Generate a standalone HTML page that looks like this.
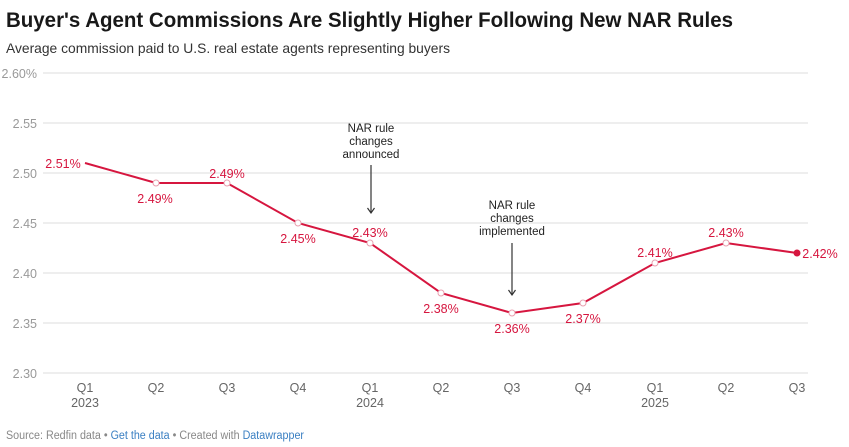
<!DOCTYPE html><html><head><style>body{margin:0;background:#fff;width:849px;height:447px;overflow:hidden}svg{display:block}text{font-family:"Liberation Sans",sans-serif}</style></head><body>
<svg width="849" height="447" xmlns="http://www.w3.org/2000/svg">
<text x="6" y="27" font-size="21" font-weight="bold" fill="#181818" textLength="727" lengthAdjust="spacingAndGlyphs">Buyer's Agent Commissions Are Slightly Higher Following New NAR Rules</text>
<text x="6" y="53" font-size="14" fill="#333" textLength="444" lengthAdjust="spacingAndGlyphs">Average commission paid to U.S. real estate agents representing buyers</text>
<g stroke="#e9e9e9" stroke-width="1.5">
<line x1="43" x2="808" y1="73" y2="73"/><line x1="43" x2="808" y1="123" y2="123"/><line x1="43" x2="808" y1="173" y2="173"/><line x1="43" x2="808" y1="223" y2="223"/><line x1="43" x2="808" y1="273" y2="273"/><line x1="43" x2="808" y1="323" y2="323"/><line x1="43" x2="808" y1="373" y2="373"/></g>
<g font-size="12.5" fill="#999" text-anchor="end">
<text x="37" y="78">2.60%</text><text x="37" y="128">2.55</text><text x="37" y="178">2.50</text><text x="37" y="228">2.45</text><text x="37" y="278">2.40</text><text x="37" y="328">2.35</text><text x="37" y="378">2.30</text></g>
<g font-size="12.5" fill="#666" text-anchor="middle">
<text x="85" y="392">Q1</text><text x="85" y="407">2023</text>
<text x="156" y="392">Q2</text><text x="227" y="392">Q3</text><text x="298" y="392">Q4</text>
<text x="370" y="392">Q1</text><text x="370" y="407">2024</text>
<text x="441" y="392">Q2</text><text x="512" y="392">Q3</text><text x="583" y="392">Q4</text>
<text x="655" y="392">Q1</text><text x="655" y="407">2025</text>
<text x="726" y="392">Q2</text><text x="797" y="392">Q3</text></g>
<g font-size="11.5" fill="#222" text-anchor="middle">
<text x="371" y="132">NAR rule</text><text x="371" y="145">changes</text><text x="371" y="158">announced</text>
<text x="512" y="209">NAR rule</text><text x="512" y="222">changes</text><text x="512" y="235">implemented</text></g>
<g stroke="#333" stroke-width="1.2" fill="none">
<line x1="371" y1="165" x2="371" y2="213"/><polyline points="367.5,208 371,213 374.5,208"/>
<line x1="512" y1="243" x2="512" y2="295"/><polyline points="508.5,290 512,295 515.5,290"/></g>
<polyline fill="none" stroke="#d6163f" stroke-width="2" points="85,163 156,183 227,183 298,223 370,243 441,293 512,313 583,303 655,263 726,243 797,253"/>
<g fill="#fff" stroke="#e8a0b0" stroke-width="1"><circle cx="156" cy="183" r="3"/><circle cx="227" cy="183" r="3"/><circle cx="298" cy="223" r="3"/><circle cx="370" cy="243" r="3"/><circle cx="441" cy="293" r="3"/><circle cx="512" cy="313" r="3"/><circle cx="583" cy="303" r="3"/><circle cx="655" cy="263" r="3"/><circle cx="726" cy="243" r="3"/></g>
<circle cx="797" cy="253" r="3.5" fill="#d6163f"/>
<g font-size="12.5" fill="#d6163f" text-anchor="middle">
<text x="63" y="168">2.51%</text><text x="155" y="203">2.49%</text><text x="227" y="178">2.49%</text><text x="298" y="243">2.45%</text><text x="370" y="237">2.43%</text><text x="441" y="313">2.38%</text><text x="512" y="333">2.36%</text><text x="583" y="323">2.37%</text><text x="655" y="257">2.41%</text><text x="726" y="237">2.43%</text><text x="820" y="258">2.42%</text></g>
<text x="6" y="439" font-size="11.5" fill="#888" textLength="298" lengthAdjust="spacingAndGlyphs">Source: Redfin data • <tspan fill="#3a7fc2">Get the data</tspan> • Created with <tspan fill="#3a7fc2">Datawrapper</tspan></text>
</svg></body></html>
